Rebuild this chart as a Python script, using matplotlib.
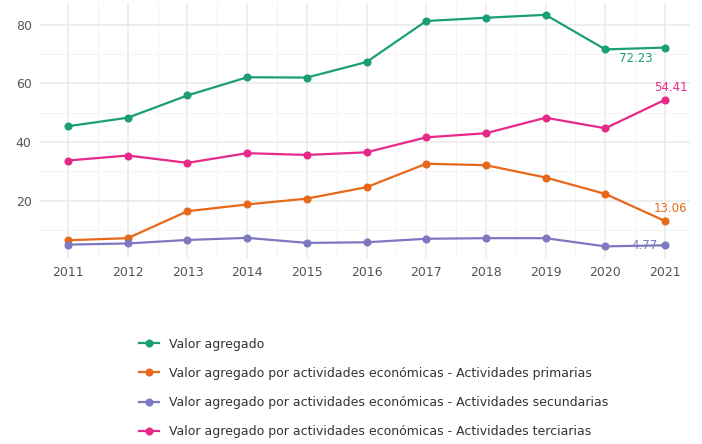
import matplotlib.pyplot as plt
from matplotlib.ticker import MultipleLocator

years = [2011, 2012, 2013, 2014, 2015, 2016, 2017, 2018, 2019, 2020, 2021]
valor_agregado = [45.4, 48.3, 55.9, 62.1, 62.0, 67.3, 81.3, 82.4, 83.4, 71.6, 72.23]
primarias = [6.5, 7.2, 16.4, 18.7, 20.7, 24.6, 32.6, 32.1, 27.9, 22.3, 13.06]
secundarias = [5.0, 5.4, 6.6, 7.3, 5.6, 5.8, 7.0, 7.2, 7.2, 4.4, 4.77]
terciarias = [33.7, 35.4, 32.9, 36.2, 35.6, 36.5, 41.6, 43.0, 48.3, 44.7, 54.41]

labels = [
    'Valor agregado',
    'Valor agregado por actividades económicas - Actividades primarias',
    'Valor agregado por actividades económicas - Actividades secundarias',
    'Valor agregado por actividades económicas - Actividades terciarias',
]
colors = ['#1b9e77', '#e8681a', '#7d78c0', '#e7298a']
series = [valor_agregado, primarias, secundarias, terciarias]

fig = plt.figure(figsize=(7.02, 4.44), dpi=100)
ax = fig.add_axes([0.057, 0.419, 0.926, 0.574])

lines = []
for vals, col, lab in zip(series, colors, labels):
    l, = ax.plot(years, vals, color=col, lw=1.6, marker='o', markersize=4.8, label=lab)
    lines.append(l)

# end labels
ax.annotate('72.23', (years[-1], valor_agregado[-1]), xytext=(-33, -8), textcoords='offset points',
            color=colors[0], fontsize=8.5, ha='left', va='center')
ax.annotate('54.41', (years[-1], terciarias[-1]), xytext=(-8, 9), textcoords='offset points',
            color=colors[3], fontsize=8.5, ha='left', va='center')
ax.annotate('13.06', (years[-1], primarias[-1]), xytext=(-8, 9), textcoords='offset points',
            color=colors[1], fontsize=8.5, ha='left', va='center')
ax.annotate('4.77', (years[-1], secundarias[-1]), xytext=(-24, 0), textcoords='offset points',
            color=colors[2], fontsize=8.5, ha='left', va='center')

ax.set_xlim(2010.53, 2021.42)
ax.set_ylim(0.45, 87.4)
ax.set_xticks(years)
ax.xaxis.set_minor_locator(MultipleLocator(0.5))
ax.set_yticks([20, 40, 60, 80])
ax.yaxis.set_minor_locator(MultipleLocator(10))
ax.grid(which='major', color='#e9e9e9', lw=1.1)
ax.grid(which='minor', color='#f3f3f3', lw=0.7)
ax.set_axisbelow(True)
for s in ax.spines.values():
    s.set_visible(False)
ax.tick_params(which='both', length=0)
ax.tick_params(axis='both', labelsize=9, colors='#555555', pad=6)

fig.legend(handles=lines, loc='upper left', bbox_to_anchor=(0.182, 0.265), frameon=False,
           fontsize=9, handlelength=1.6, handletextpad=0.8, labelspacing=1.3,
           labelcolor='#333333')

plt.savefig('out.png', dpi=100)
